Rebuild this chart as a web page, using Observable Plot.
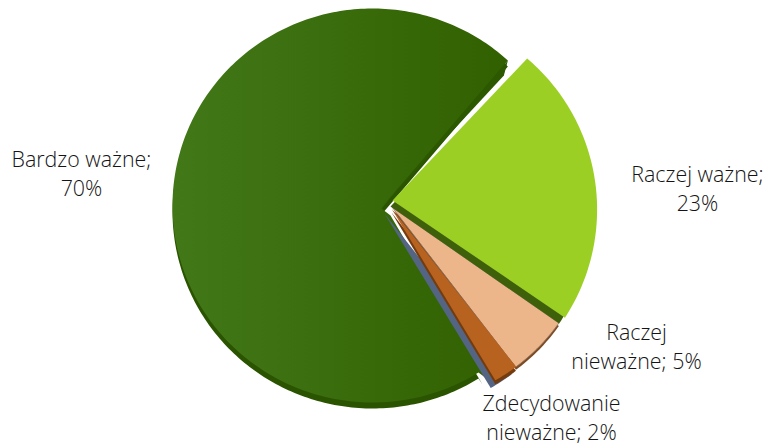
<!DOCTYPE html>
<html><head><meta charset="utf-8">
<script src="https://cdn.jsdelivr.net/npm/d3@7"></script>
<script src="https://cdn.jsdelivr.net/npm/@observablehq/plot@0.6"></script>
<style>html,body{margin:0;padding:0;background:#fff}svg{display:block}</style>
</head><body><div id="chart"></div>
<script>
const categories = ["Bardzo ważne", "Raczej ważne", "Raczej nieważne", "Zdecydowanie nieważne"];
const shares = [70, 23, 5, 2];
const labelTexts = ["Bardzo ważne;\n70%", "Raczej ważne;\n23%", "Raczej\nnieważne; 5%", "Zdecydowanie\nnieważne; 2%"];
const labelX = [81, 697, 636, 551];
const labelY = [172, 187, 345, 416];

const DEG = Math.PI / 180;
const START = 150.6 * DEG;
const arcs = d3.pie().sort(null).startAngle(START).endAngle(START + 2 * Math.PI)(shares);

// Slice polygon: apex point(s), then an arc around its own circle centre.
function wedge(a, apex, centre, r, ry = r, via = []) {
  const n = Math.max(2, Math.ceil((a.endAngle - a.startAngle) / DEG));
  const pts = [apex, ...via];
  for (let i = 0; i <= n; i++) {
    const t = a.startAngle + (a.endAngle - a.startAngle) * i / n;
    pts.push([centre[0] + r * Math.sin(t), centre[1] - ry * Math.cos(t)]);
  }
  pts.push(apex);
  return {type: "Polygon", coordinates: [pts]};
}
const geo = (g, fill, extra = {}) => Plot.geo([g], {fill, ...extra});
const turn = (a, s, e = s) => ({startAngle: a.startAngle + s * DEG, endAngle: a.endAngle + e * DEG});

const defs = () => {
  const s = d3.create("svg:defs");
  const g = s.append("linearGradient").attr("id", "mainG")
    .attr("gradientUnits", "userSpaceOnUse")
    .attr("x1", 172).attr("x2", 510).attr("y1", 0).attr("y2", 0);
  g.append("stop").attr("offset", 0).attr("stop-color", "#427818");
  g.append("stop").attr("offset", 1).attr("stop-color", "#316000");
  return s.node();
};

const [mainRaw, limeRaw, peachRaw, brownRaw] = arcs;
const main = turn(mainRaw, -2.6, 0);
const lime = turn(limeRaw, -2.3);
const peach = peachRaw, brown = brownRaw;
const tip = [372 + 200 * Math.sin(main.endAngle), 205 - 197 * Math.cos(main.endAngle)];
const labels = labelTexts.map((t, i) => ({t, x: labelX[i], y: labelY[i]}));

const chart = Plot.plot({
  width: 767, height: 445, margin: 0,
  projection: d3.geoIdentity(),
  marks: [
    defs,
    geo(wedge(main, [381, 214], [372, 211], 200, 197, [[482, 384]]), "#2a5400"),
    geo(wedge(main, [381, 208], [372, 205], 200, 197, [[390, 215], [486, 378]]), "url(#mainG)"),
    geo({type: "Polygon", coordinates: [[[381, 207], tip, [tip[0] - 4, tip[1] + 15], [381, 207]]]}, "#2c5800"),
    geo(wedge(peach, [392, 210], [398.6, 212], 196), "#7c4a22"),
    geo(wedge(peach, [392, 207], [398.6, 209], 196), "#edb58a", {stroke: "#8a7564", strokeWidth: 0.8}),
    geo(wedge(brown, [384, 213], [393, 215], 198), "#536583"),
    geo(wedge(brown, [391, 212], [398.6, 213], 196), "#743c0e"),
    geo(wedge(brown, [391, 208], [398.6, 209], 196), "#b8621f"),
    geo(wedge(lime, [390, 206], [394.5, 216], 196), "#3f600b"),
    geo(wedge(lime, [392, 200], [398.6, 209], 198), "#9bcf24"),
    Plot.text(labels, {
      x: "x", y: "y", text: "t",
      fontFamily: "'Open Sans', sans-serif", fontWeight: 300, fontSize: 21.4,
      lineHeight: 1.355, fill: "#141414"
    })
  ]
});
document.getElementById("chart").append(chart);
</script></body></html>
